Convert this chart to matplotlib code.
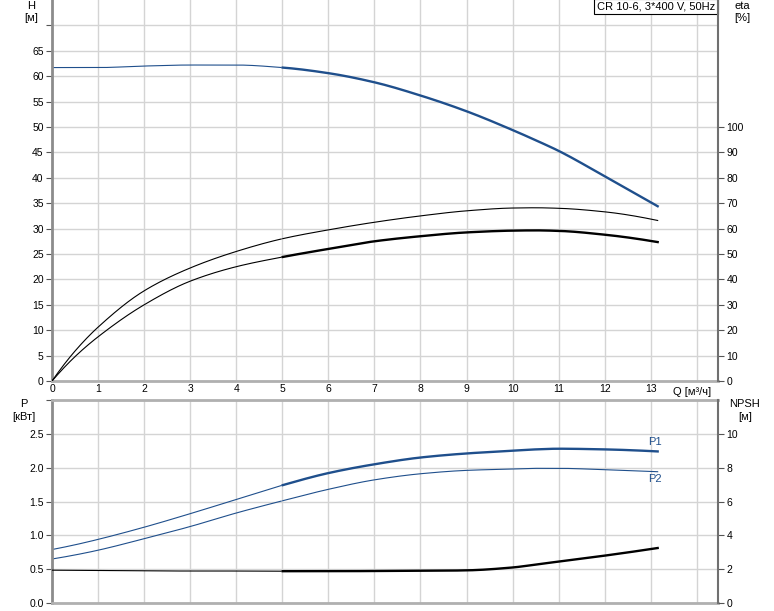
import numpy as np
import matplotlib.pyplot as plt

plt.rcParams['font.family'] = ['Liberation Sans', 'DejaVu Sans']

# Q [m3/h]
q = [0, 0.5, 1, 2, 3, 4, 5, 6, 7, 8, 9, 10, 10.5, 11, 12, 13.15]
# head H [m]
head = [61.7, 61.7, 61.7, 62.0, 62.2, 62.2, 61.7, 60.6, 58.8, 56.2, 53.1, 49.4, 47.4, 45.3, 40.3, 34.4]
# efficiencies [%]
eta_upper = [0, 11.8, 21.2, 35.5, 44.5, 51, 56, 59.5, 62.5, 65, 67, 68.1, 68.2, 68.0, 66.6, 63.2]
eta_lower = [0, 9.6, 17.4, 30, 39.3, 45, 48.8, 52, 55, 57, 58.5, 59.2, 59.3, 59.1, 57.6, 54.7]
# power [kW]
p1 = [0.79, 0.86, 0.94, 1.12, 1.32, 1.53, 1.74, 1.92, 2.05, 2.15, 2.21, 2.25, 2.27, 2.28, 2.27, 2.24]
p2 = [0.65, 0.71, 0.78, 0.95, 1.13, 1.33, 1.51, 1.68, 1.82, 1.91, 1.96, 1.98, 1.99, 1.99, 1.97, 1.94]
# NPSH [m]
npsh = [1.94, 1.93, 1.92, 1.90, 1.89, 1.89, 1.88, 1.88, 1.89, 1.90, 1.93, 2.1, 2.27, 2.45, 2.8, 3.25]

q_start = 5  # duty range starts here

blue = "#1f4f8c"
grid_c = "#d4d4d4"
spine_c = "#8c8c8c"
fs = 7.5


def pchip(x, y, xs):
    # monotone cubic (Fritsch-Carlson) through the read points
    x = np.asarray(x, float); y = np.asarray(y, float)
    h = np.diff(x)
    d = np.diff(y) / h
    n = len(x)
    m = np.zeros(n)
    m[0] = ((2 * h[0] + h[1]) * d[0] - h[0] * d[1]) / (h[0] + h[1])
    m[-1] = ((2 * h[-1] + h[-2]) * d[-1] - h[-1] * d[-2]) / (h[-1] + h[-2])
    for i in range(1, n - 1):
        if d[i - 1] * d[i] <= 0:
            m[i] = 0
        else:
            w1 = 2 * h[i] + h[i - 1]
            w2 = h[i] + 2 * h[i - 1]
            m[i] = (w1 + w2) / (w1 / d[i - 1] + w2 / d[i])
    out = np.zeros_like(xs)
    for k, xv in enumerate(xs):
        i = min(max(np.searchsorted(x, xv) - 1, 0), n - 2)
        t = (xv - x[i]) / h[i]
        h00 = 2 * t**3 - 3 * t**2 + 1
        h10 = t**3 - 2 * t**2 + t
        h01 = -2 * t**3 + 3 * t**2
        h11 = t**3 - t**2
        out[k] = h00 * y[i] + h10 * h[i] * m[i] + h01 * y[i + 1] + h11 * h[i] * m[i + 1]
    return out


qs = np.linspace(0, 13.15, 400)
lo = qs <= q_start
hi = qs >= q_start

fig = plt.figure(figsize=(7.74, 6.11), dpi=100)
ax = fig.add_axes([52 / 774, 230 / 611, 666 / 774, 381 / 611])
ax2 = fig.add_axes([52 / 774, 8 / 611, 666 / 774, 203 / 611])
axr = ax.twinx()
ax2r = ax2.twinx()


def draw(a, y, color, thin=0.8, thick=1.7):
    ys = pchip(q, y, qs)
    a.plot(qs[lo], ys[lo], color=color, lw=thin)
    a.plot(qs[hi], ys[hi], color=color, lw=thick)


# top: head and efficiency
draw(ax, head, blue)
draw(axr, eta_upper, "black", 0.8, 0.8)
draw(axr, eta_lower, "black")

# bottom: power and NPSH
draw(ax2, p1, blue)
draw(ax2, p2, blue, 0.8, 0.8)
draw(ax2r, npsh, "black")

for a in (ax, ax2):
    a.set_xlim(0, 14.46)
    a.set_xticks(np.arange(0, 15, 1))
    a.grid(True, color=grid_c, lw=1.0)
    a.set_axisbelow(True)
    a.tick_params(labelsize=fs, length=4, color="#555555", pad=2)
    for s in ("top", "right"):
        a.spines[s].set_visible(False)
    a.spines["left"].set_color(spine_c)
    a.spines["left"].set_linewidth(2)
    a.spines["bottom"].set_color("#b0b0b0")
    a.spines["bottom"].set_linewidth(2)

ax.set_ylim(0, 75)
ax.set_yticks(np.arange(0, 75, 5))
ax.set_yticklabels([str(v) if v <= 65 else "" for v in range(0, 75, 5)])
ax.set_xticklabels([str(v) if v <= 13 else "" for v in range(0, 15)])
ax.tick_params(axis="x", length=0)

ax2.set_ylim(0, 3)
ax2.set_yticks(np.arange(0, 3.01, 0.5))
ax2.set_yticklabels(["0.0", "0.5", "1.0", "1.5", "2.0", "2.5", ""])
ax2.tick_params(axis="x", length=0, labelbottom=False)
ax2.spines["top"].set_visible(True)
ax2.spines["top"].set_color("#b0b0b0")
ax2.spines["top"].set_linewidth(2)

axr.set_ylim(0, 150)
axr.set_yticks(np.arange(0, 101, 10))
ax2r.set_ylim(0, 12)
ax2r.set_yticks(np.arange(0, 11, 2))
for a in (axr, ax2r):
    a.tick_params(labelsize=fs, length=4, color="#555555", pad=2)
    for s in ("top", "left", "bottom"):
        a.spines[s].set_visible(False)
    a.spines["right"].set_color("#707070")
    a.spines["right"].set_linewidth(1.5)

ax.text(0.996, 0.996, "CR 10-6, 3*400 V, 50Hz", transform=ax.transAxes,
        ha="right", va="top", fontsize=fs + 0.5,
        bbox=dict(facecolor="white", edgecolor="black", lw=0.8, pad=2))

ax2.text(13.1, 2.30, "P1", color=blue, fontsize=fs + 0.5, ha="center", va="bottom")
ax2.text(13.1, 1.90, "P2", color=blue, fontsize=fs + 0.5, ha="center", va="top")

labels = [
    (31, 6, "H"), (31, 18, "[м]"),
    (742, 6, "eta"), (742, 18, "[%]"),
    (24, 404, "P"), (24, 417, "[кВт]"),
    (745, 404, "NPSH"), (745, 417, "[м]"),
    (692, 392, "Q [м³/ч]"),
]
for x, y, s in labels:
    fig.text(x / 774, 1 - y / 611, s, ha="center", va="center", fontsize=fs + 0.5)

fig.savefig("out.png", dpi=100)
